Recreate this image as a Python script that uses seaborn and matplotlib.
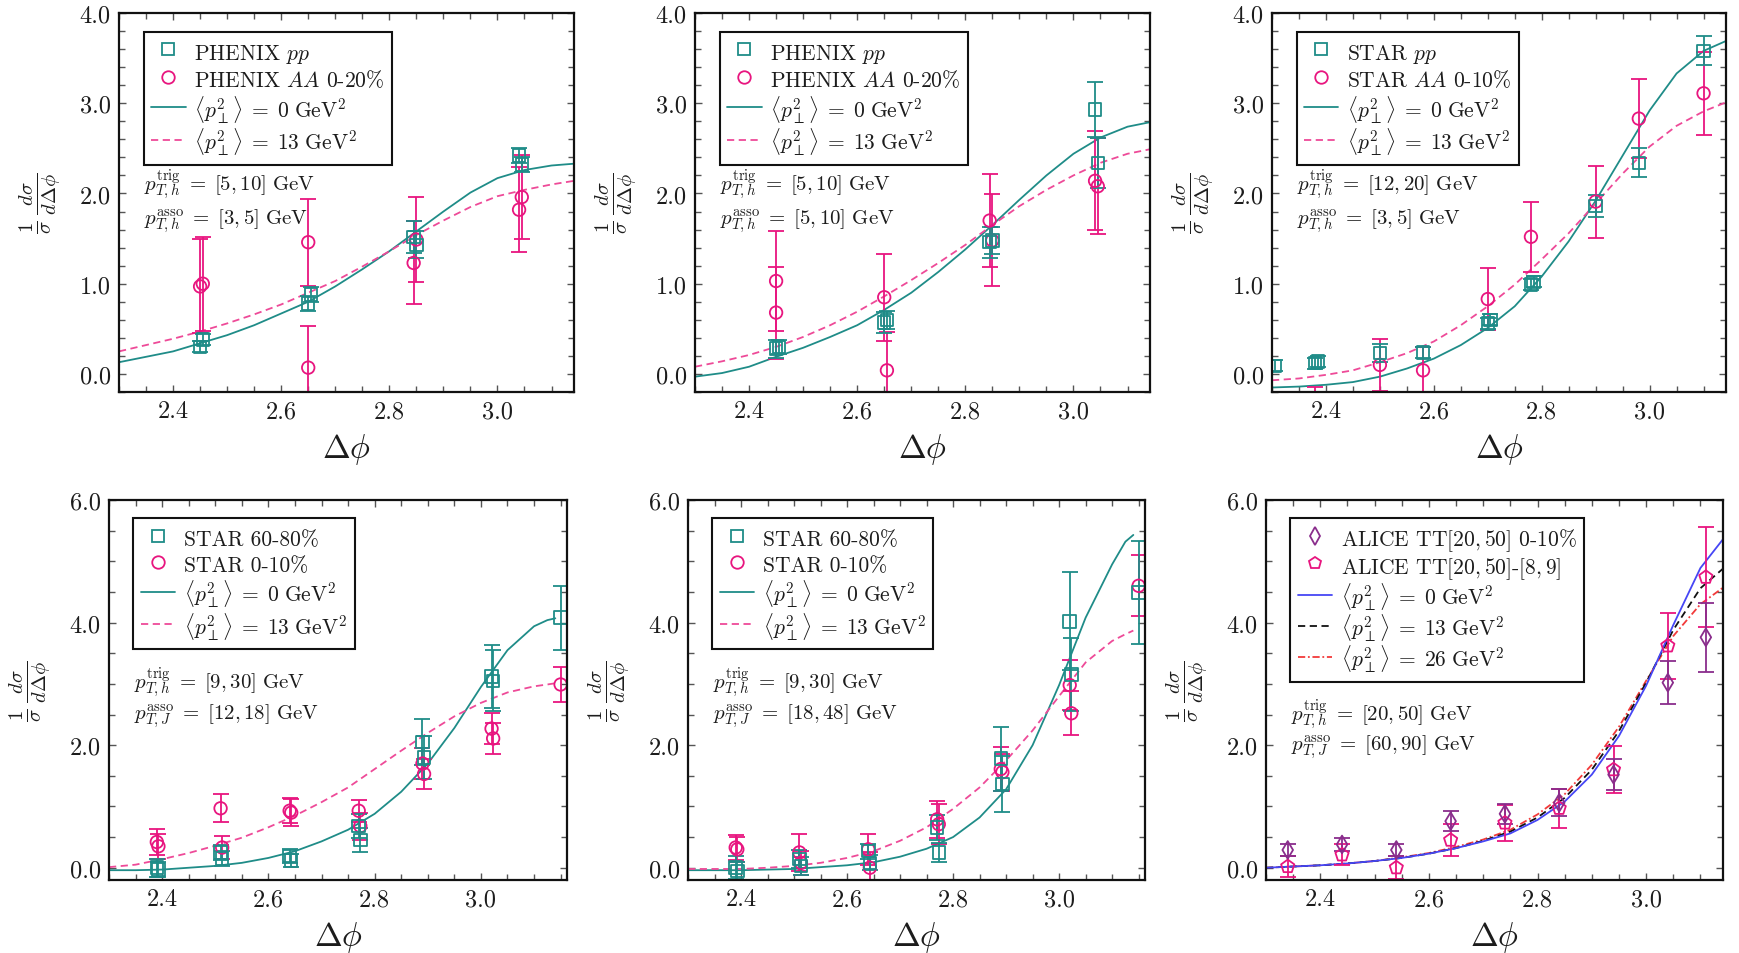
import numpy as np
import matplotlib
matplotlib.use("Agg")
import matplotlib.pyplot as plt
from matplotlib.lines import Line2D
from matplotlib.ticker import MultipleLocator, FormatStrFormatter
import seaborn as sns

# ---------------------------------------------------------------- data
# theory-curve sampling in delta-phi
curve_x_top = [2.30, 2.35, 2.40, 2.45, 2.50, 2.55, 2.60, 2.65, 2.70, 2.75,
               2.80, 2.85, 2.90, 2.95, 3.00, 3.05, 3.10, 3.1416]
curve_x_bot = [2.30, 2.35, 2.40, 2.45, 2.50, 2.55, 2.60, 2.65, 2.70, 2.75,
               2.80, 2.85, 2.90, 2.95, 3.00, 3.05, 3.10, 3.125, 3.14]

# panel 1: PHENIX, trig [5,10], asso [3,5]
p1_pp_x = [2.450, 2.455, 2.650, 2.655, 2.845, 2.850, 3.040, 3.045]
p1_pp_y = [0.30, 0.38, 0.78, 0.88, 1.52, 1.43, 2.42, 2.32]
p1_pp_e = [0.06, 0.06, 0.08, 0.08, 0.18, 0.15, 0.08, 0.08]
p1_aa_x = [2.450, 2.455, 2.650, 2.650, 2.845, 2.850, 3.040, 3.045]
p1_aa_y = [0.97, 1.00, 1.46, 0.07, 1.23, 1.49, 1.82, 1.96]
p1_aa_e = [0.52, 0.52, 0.48, 0.46, 0.46, 0.47, 0.47, 0.47]
p1_c0 = [0.13, 0.19, 0.25, 0.34, 0.43, 0.54, 0.67, 0.80, 0.97, 1.16,
         1.36, 1.58, 1.80, 2.01, 2.17, 2.26, 2.31, 2.33]
p1_c13 = [0.25, 0.32, 0.39, 0.47, 0.56, 0.66, 0.77, 0.90, 1.03, 1.19,
          1.36, 1.54, 1.70, 1.85, 1.97, 2.04, 2.10, 2.14]

# panel 2: PHENIX, trig [5,10], asso [5,10]
p2_pp_x = [2.450, 2.455, 2.650, 2.655, 2.845, 2.850, 3.040, 3.045]
p2_pp_y = [0.28, 0.30, 0.57, 0.60, 1.46, 1.48, 2.93, 2.34]
p2_pp_e = [0.10, 0.08, 0.12, 0.10, 0.17, 0.15, 0.30, 0.28]
p2_aa_x = [2.450, 2.450, 2.650, 2.655, 2.845, 2.850, 3.040, 3.045]
p2_aa_y = [1.03, 0.68, 0.85, 0.04, 1.70, 1.48, 2.14, 2.08]
p2_aa_e = [0.55, 0.51, 0.48, 0.42, 0.52, 0.51, 0.55, 0.53]
p2_c0 = [-0.03, 0.01, 0.08, 0.19, 0.29, 0.41, 0.54, 0.71, 0.90, 1.13,
         1.38, 1.65, 1.93, 2.20, 2.44, 2.62, 2.74, 2.79]
p2_c13 = [0.08, 0.14, 0.21, 0.30, 0.41, 0.54, 0.69, 0.86, 1.04, 1.23,
          1.43, 1.65, 1.86, 2.04, 2.20, 2.34, 2.44, 2.49]

# panel 3: STAR, trig [12,20], asso [3,5]
p3_pp_x = [2.305, 2.380, 2.385, 2.500, 2.580, 2.700, 2.705, 2.780, 2.785, 2.900, 2.980, 3.100]
p3_pp_y = [0.09, 0.12, 0.14, 0.23, 0.24, 0.56, 0.60, 0.99, 1.02, 1.86, 2.34, 3.58]
p3_pp_e = [0.06, 0.06, 0.06, 0.10, 0.06, 0.06, 0.06, 0.06, 0.06, 0.12, 0.16, 0.16]
p3_aa_x = [2.38, 2.50, 2.58, 2.70, 2.78, 2.90, 2.98, 3.10]
p3_aa_y = [-0.36, 0.10, 0.04, 0.83, 1.52, 1.91, 2.83, 3.11]
p3_aa_e = [0.22, 0.29, 0.26, 0.34, 0.39, 0.40, 0.44, 0.46]
p3_c0 = [-0.15, -0.14, -0.12, -0.09, -0.03, 0.06, 0.17, 0.32, 0.51, 0.75,
         1.08, 1.47, 1.92, 2.42, 2.92, 3.33, 3.58, 3.69]
p3_c13 = [-0.07, -0.05, -0.01, 0.04, 0.13, 0.23, 0.36, 0.54, 0.75, 0.99,
          1.27, 1.56, 1.89, 2.22, 2.52, 2.75, 2.91, 3.01]

# panel 4: STAR, trig [9,30], asso jet [12,18]
p4_x = [2.390, 2.393, 2.510, 2.513, 2.640, 2.643, 2.770, 2.773, 2.890, 2.893, 3.020, 3.023, 3.150]
p4_pe_y = [0.00, -0.03, 0.25, 0.15, 0.19, 0.12, 0.68, 0.45, 2.05, 1.80, 3.12, 3.05, 4.08]
p4_pe_e = [0.15, 0.12, 0.12, 0.12, 0.12, 0.10, 0.20, 0.20, 0.38, 0.35, 0.52, 0.50, 0.52]
p4_ce_y = [0.42, 0.35, 0.97, 0.33, 0.93, 0.90, 0.93, 0.68, 1.70, 1.53, 2.27, 2.11, 2.99]
p4_ce_e = [0.22, 0.20, 0.23, 0.19, 0.20, 0.22, 0.18, 0.22, 0.25, 0.24, 0.25, 0.25, 0.28]
p4_c0 = [-0.04, -0.04, -0.03, 0.00, 0.03, 0.08, 0.16, 0.27, 0.43, 0.62,
         0.88, 1.24, 1.70, 2.28, 2.95, 3.55, 3.94, 4.04, 4.07]
p4_c13 = [0.01, 0.05, 0.14, 0.24, 0.36, 0.49, 0.66, 0.85, 1.07, 1.31,
          1.61, 1.91, 2.20, 2.47, 2.69, 2.86, 2.96, 2.99, 3.01]

# panel 5: STAR, trig [9,30], asso jet [18,48]
p5_x = [2.390, 2.393, 2.510, 2.513, 2.640, 2.643, 2.770, 2.773, 2.890, 2.893, 3.020, 3.023, 3.150]
p5_pe_y = [0.00, -0.05, 0.14, 0.03, 0.27, 0.08, 0.66, 0.25, 1.78, 1.37, 4.02, 3.15, 4.49]
p5_pe_e = [0.19, 0.15, 0.15, 0.15, 0.12, 0.12, 0.20, 0.15, 0.52, 0.46, 0.80, 0.60, 0.84]
p5_ce_y = [0.33, 0.30, 0.25, 0.08, 0.30, 0.00, 0.79, 0.71, 1.61, 1.56, 2.98, 2.52, 4.60]
p5_ce_e = [0.20, 0.20, 0.30, 0.20, 0.25, 0.25, 0.30, 0.33, 0.36, 0.30, 0.41, 0.36, 0.50]
p5_c0 = [-0.04, -0.04, -0.04, -0.03, -0.02, 0.01, 0.04, 0.09, 0.18, 0.31,
         0.50, 0.82, 1.28, 2.00, 2.98, 4.08, 4.95, 5.32, 5.43]
p5_c13 = [-0.02, -0.02, -0.02, 0.00, 0.03, 0.08, 0.16, 0.27, 0.44, 0.66,
          0.96, 1.31, 1.75, 2.24, 2.80, 3.35, 3.70, 3.81, 3.87]

# panel 6: ALICE, trig [20,50], asso jet [60,90]
p6_x = [2.34, 2.44, 2.54, 2.64, 2.74, 2.84, 2.94, 3.04, 3.11]
p6_dia_y = [0.29, 0.38, 0.29, 0.76, 0.88, 1.06, 1.52, 3.02, 3.76]
p6_dia_e = [0.10, 0.11, 0.10, 0.16, 0.16, 0.22, 0.25, 0.35, 0.56]
p6_pen_y = [0.02, 0.21, 0.00, 0.45, 0.73, 0.97, 1.60, 3.62, 4.74]
p6_pen_e = [0.17, 0.17, 0.19, 0.26, 0.30, 0.32, 0.38, 0.54, 0.82]
p6_c0 = [0.00, 0.02, 0.04, 0.07, 0.11, 0.16, 0.23, 0.32, 0.43, 0.56,
         0.78, 1.08, 1.52, 2.15, 2.97, 3.96, 4.89, 5.36]
p6_c13 = [0.00, 0.02, 0.04, 0.07, 0.11, 0.16, 0.23, 0.32, 0.44, 0.59,
          0.82, 1.14, 1.60, 2.23, 3.02, 3.88, 4.56, 4.88]
p6_c26 = [0.00, 0.02, 0.04, 0.07, 0.11, 0.17, 0.24, 0.34, 0.46, 0.62,
          0.87, 1.20, 1.68, 2.30, 3.05, 3.78, 4.30, 4.57]

# ---------------------------------------------------------------- style
sns.set_theme(style="ticks")
plt.rcParams.update({
    "font.family": "serif",
    "font.serif": ["cmr10"],
    "mathtext.fontset": "cm",
    "axes.formatter.use_mathtext": True,
    "text.color": "#1c1c1c",
    "axes.labelcolor": "#1c1c1c",
    "xtick.color": "#555555",
    "ytick.color": "#555555",
    "xtick.labelcolor": "#1c1c1c",
    "ytick.labelcolor": "#1c1c1c",
})

TEAL = "#1f8c88"
MAG = "#e8157f"
PINK = "#ee4a98"
PURPLE = "#8a2d8c"
BLUE = "#4646f5"
RED = "#f23a3a"

W, H = 1739, 954
fig = plt.figure(figsize=(W / 100, H / 100), dpi=100)


def make_axes(left, right, top, bottom):
    return fig.add_axes([left / W, 1 - bottom / H, (right - left) / W, (bottom - top) / H])


def style_axes(ax, xmax, ymax, ymajor, yminor):
    ax.set_xlim(2.3, xmax)
    ax.set_ylim(-0.2, ymax)
    ax.xaxis.set_major_locator(MultipleLocator(0.2))
    ax.xaxis.set_minor_locator(MultipleLocator(0.05))
    ax.yaxis.set_major_locator(MultipleLocator(ymajor))
    ax.yaxis.set_minor_locator(MultipleLocator(yminor))
    ax.xaxis.set_major_formatter(FormatStrFormatter("%.1f"))
    ax.yaxis.set_major_formatter(FormatStrFormatter("%.1f"))
    ax.tick_params(which="both", direction="in", top=True, right=True, width=1.0)
    ax.tick_params(which="major", length=5, labelsize=17.5, pad=6)
    ax.tick_params(which="minor", length=4)
    for s in ax.spines.values():
        s.set_linewidth(1.6)
        s.set_color("#111111")
        s.set_zorder(5)
    ax.set_xlabel(r"$\Delta\phi$", fontsize=24, labelpad=6)
    ax.set_ylabel(r"$\frac{1}{\sigma}\,\frac{d\sigma}{d\Delta\phi}$", fontsize=21, labelpad=12)
    ax.grid(False)


def data_points(ax, x, y, e, color, marker, ms=9.0):
    ax.errorbar(x, y, yerr=e, fmt="none", ecolor=color, elinewidth=1.3,
                capsize=5.5, capthick=1.3, zorder=3)
    sns.scatterplot(x=x, y=y, ax=ax, marker=marker, s=ms ** 2,
                    facecolor="none", edgecolor=color, linewidth=1.3, zorder=4,
                    legend=False)


def curve(ax, x, y, color, ls, lw=1.3):
    sns.lineplot(x=x, y=y, ax=ax, color=color, linestyle=ls, linewidth=lw,
                 sort=False, estimator=None, legend=False, zorder=2)


def legend(ax, entries, anchor, spacing):
    handles, labels = [], []
    for lab, kind, color, spec in entries:
        if kind == "marker":
            h = Line2D([], [], ls="none", marker=spec, ms=9, mfc="none", mec=color, mew=1.3)
        else:
            h = Line2D([], [], color=color, lw=1.3, ls=spec)
        handles.append(h)
        labels.append(lab)
    leg = ax.legend(handles, labels, loc="upper left", bbox_to_anchor=anchor,
                    borderaxespad=0, frameon=True, fancybox=False, framealpha=1,
                    edgecolor="#111111", fontsize=15.5, handlelength=1.6,
                    handleheight=1.4, handletextpad=0.4, labelspacing=spacing,
                    borderpad=0.35)
    leg.get_frame().set_linewidth(1.5)


def annotate(ax, lines, y0, dy):
    for i, t in enumerate(lines):
        ax.text(0.055, y0 - i * dy, t, transform=ax.transAxes, fontsize=15, va="center")


DASH = (0, (4, 2.5))
DASHDOT = (0, (4, 1.5, 1, 1.5))
L0 = r"$\langle p_\perp^2\rangle \;=\; 0\ \mathrm{GeV}^2$"
L13 = r"$\langle p_\perp^2\rangle \;=\; 13\ \mathrm{GeV}^2$"
L26 = r"$\langle p_\perp^2\rangle \;=\; 26\ \mathrm{GeV}^2$"


def trig(a, b):
    return r"$p_{T,h}^{\mathrm{trig}} \;=\; [%s, %s]\ \mathrm{GeV}$" % (a, b)


def asso(sub, a, b):
    return r"$p_{T,%s}^{\mathrm{asso}} \;=\; [%s, %s]\ \mathrm{GeV}$" % (sub, a, b)


# ---------------------------------------------------------------- axes
ax1 = make_axes(119, 574, 14, 393)
ax2 = make_axes(695, 1150, 14, 393)
ax3 = make_axes(1272, 1726, 14, 393)
ax4 = make_axes(109, 567, 501, 881)
ax5 = make_axes(688, 1145, 501, 881)
ax6 = make_axes(1266, 1723, 501, 881)

# ---------------------------------------------------------------- top row
top_panels = [
    (ax1, p1_pp_x, p1_pp_y, p1_pp_e, p1_aa_x, p1_aa_y, p1_aa_e, p1_c0, p1_c13,
     "PHENIX", "0-20%", trig(5, 10), asso("h", 3, 5)),
    (ax2, p2_pp_x, p2_pp_y, p2_pp_e, p2_aa_x, p2_aa_y, p2_aa_e, p2_c0, p2_c13,
     "PHENIX", "0-20%", trig(5, 10), asso("h", 5, 10)),
    (ax3, p3_pp_x, p3_pp_y, p3_pp_e, p3_aa_x, p3_aa_y, p3_aa_e, p3_c0, p3_c13,
     "STAR", "0-10%", trig(12, 20), asso("h", 3, 5)),
]
for ax, px, py, pe, ax_, ay, ae, c0, c13, exp, cent, t1, t2 in top_panels:
    style_axes(ax, np.pi, 4.0, 1.0, 0.2)
    curve(ax, curve_x_top, c0, TEAL, "-")
    curve(ax, curve_x_top, c13, PINK, DASH)
    data_points(ax, ax_, ay, ae, MAG, "o")
    data_points(ax, px, py, pe, TEAL, "s")
    legend(ax, [(exp + r" $pp$", "marker", TEAL, "s"),
                (exp + r" $AA$ " + cent, "marker", MAG, "o"),
                (L0, "line", TEAL, "-"),
                (L13, "line", PINK, DASH)], (0.054, 0.95), 0.08)
    annotate(ax, [t1, t2], 0.548, 0.094)

# ---------------------------------------------------------------- bottom row
bot_panels = [
    (ax4, p4_x, p4_pe_y, p4_pe_e, p4_ce_y, p4_ce_e, p4_c0, p4_c13, trig(9, 30), asso("J", 12, 18)),
    (ax5, p5_x, p5_pe_y, p5_pe_e, p5_ce_y, p5_ce_e, p5_c0, p5_c13, trig(9, 30), asso("J", 18, 48)),
]
for ax, x, py, pe, cy, ce, c0, c13, t1, t2 in bot_panels:
    style_axes(ax, 3.162, 6.0, 2.0, 0.5)
    curve(ax, curve_x_bot, c0, TEAL, "-")
    curve(ax, curve_x_bot, c13, PINK, DASH)
    data_points(ax, x, cy, ce, MAG, "o")
    data_points(ax, x, py, pe, TEAL, "s")
    legend(ax, [("STAR 60-80%", "marker", TEAL, "s"),
                ("STAR 0-10%", "marker", MAG, "o"),
                (L0, "line", TEAL, "-"),
                (L13, "line", PINK, DASH)], (0.053, 0.952), 0.06)
    annotate(ax, [t1, t2], 0.52, 0.085)

style_axes(ax6, np.pi, 6.0, 2.0, 0.5)
curve(ax6, curve_x_top, p6_c26, RED, DASHDOT)
curve(ax6, curve_x_top, p6_c13, "#111111", DASH)
curve(ax6, curve_x_top, p6_c0, BLUE, "-")
data_points(ax6, p6_x, p6_pen_y, p6_pen_e, MAG, "p", ms=10)
data_points(ax6, p6_x, p6_dia_y, p6_dia_e, PURPLE, "d", ms=9)
legend(ax6, [(r"ALICE TT$[20,50]$ 0-10%", "marker", PURPLE, "d"),
             (r"ALICE TT$[20,50]$-$[8,9]$", "marker", MAG, "p"),
             (L0, "line", BLUE, "-"),
             (L13, "line", "#111111", DASH),
             (L26, "line", RED, DASHDOT)], (0.053, 0.952), 0.0)
annotate(ax6, [trig(20, 50), asso("J", 60, 90)], 0.437, 0.085)

fig.savefig("out.png", dpi=100)
